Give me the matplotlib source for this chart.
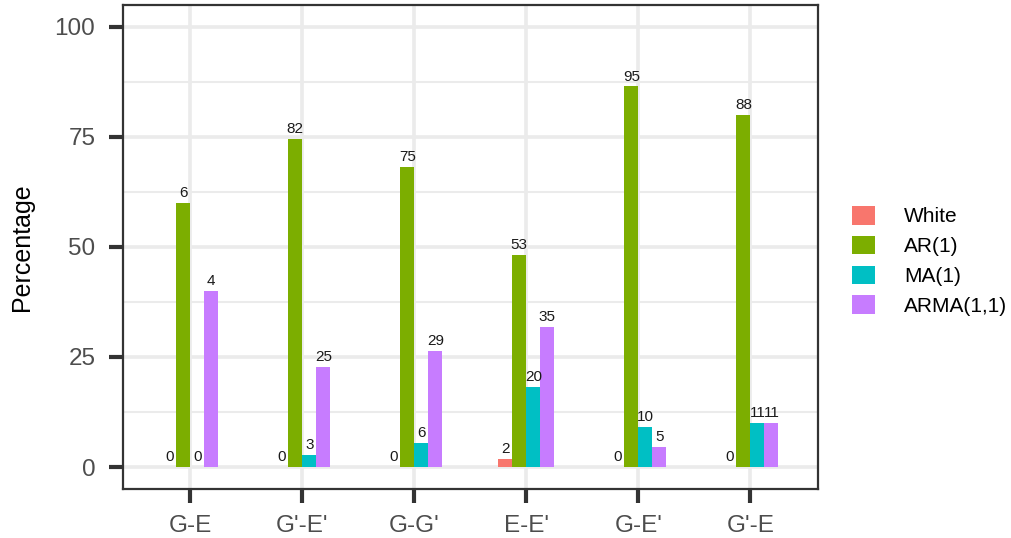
import numpy as np
import matplotlib
matplotlib.use("Agg")
import matplotlib.pyplot as plt
from matplotlib.patches import Patch

plt.rcParams['font.family'] = ['Liberation Sans', 'DejaVu Sans']

pairs = ["G-E", "G'-E'", "G-G'", "E-E'", "G-E'", "G'-E"]
models = ["White", "AR(1)", "MA(1)", "ARMA(1,1)"]
colors = ["#F8766D", "#7CAE00", "#00BFC4", "#C77CFF"]

# counts shown as labels on top of the bars
white_n = [0, 0, 0, 2, 0, 0]
ar_n = [6, 82, 75, 53, 95, 88]
ma_n = [0, 3, 6, 20, 10, 11]
arma_n = [4, 25, 29, 35, 5, 11]

# bar heights (percentage within each pair)
white_pct = [0.0, 0.0, 0.0, 1.8, 0.0, 0.0]
ar_pct = [60.0, 74.5, 68.2, 48.2, 86.4, 80.0]
ma_pct = [0.0, 2.7, 5.5, 18.2, 9.1, 10.0]
arma_pct = [40.0, 22.7, 26.4, 31.8, 4.5, 10.0]

counts = [white_n, ar_n, ma_n, arma_n]
heights = [white_pct, ar_pct, ma_pct, arma_pct]

fig = plt.figure(figsize=(10.11, 5.38), dpi=100)
ax = fig.add_axes([0.1217, 0.091, 0.687, 0.9006])

x = np.arange(1, len(pairs) + 1)
w = 0.125
offsets = [-1.5 * w, -0.5 * w, 0.5 * w, 1.5 * w]

for k in range(len(models)):
    xs = x + offsets[k]
    ax.bar(xs, heights[k], width=w, color=colors[k], zorder=3)
    for xi, h, n in zip(xs, heights[k], counts[k]):
        ax.annotate(str(n), (xi, h), xytext=(0, 2), textcoords='offset points',
                    ha='center', va='bottom', fontsize=11, color='#1a1a1a', zorder=4)

ax.set_xlim(0.4, 6.6)
ax.set_ylim(-5, 105)
ax.set_xticks(x)
ax.set_xticklabels(pairs)
ax.set_yticks([0, 25, 50, 75, 100])
ax.set_yticks([12.5, 37.5, 62.5, 87.5], minor=True)

# theme_bw look
ax.grid(which='major', color='#EBEBEB', linewidth=2.6, zorder=0)
ax.grid(which='minor', axis='y', color='#EBEBEB', linewidth=1.5, zorder=0)
ax.set_axisbelow(True)
for s in ax.spines.values():
    s.set_color('#333333')
    s.set_linewidth(1.6)
ax.tick_params(which='major', length=10, width=3, color='#333333',
               labelsize=17.5, labelcolor='#4D4D4D')
ax.tick_params(axis='y', pad=10)
ax.tick_params(axis='x', pad=9)
ax.tick_params(which='minor', length=0)

ax.set_ylabel("Percentage", fontsize=18, labelpad=15)

handles = [Patch(facecolor=c, edgecolor='none') for c in colors]
fig.legend(handles, models, loc='center left', bbox_to_anchor=(0.824, 0.515),
           frameon=False, fontsize=15, handlelength=1.1, handleheight=1.0,
           handletextpad=1.4, labelspacing=0.45)

fig.savefig("out.png", dpi=100)
